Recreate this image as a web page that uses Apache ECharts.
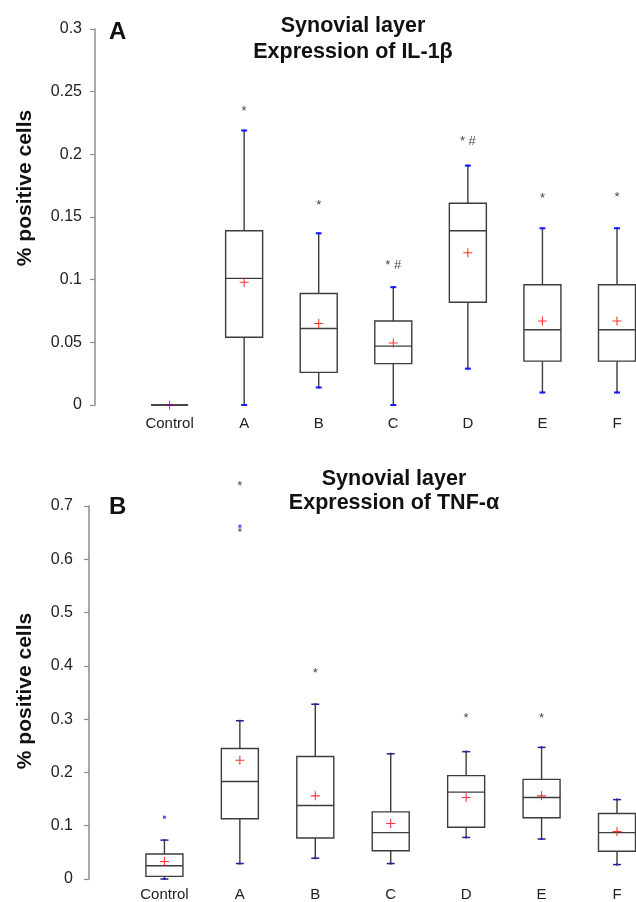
<!DOCTYPE html>
<html>
<head>
<meta charset="utf-8">
<script src="https://cdn.jsdelivr.net/npm/echarts@6/dist/echarts.min.js"></script>
<style>
html, body { margin: 0; padding: 0; background: #fff; }
#chart { width: 636px; height: 902px; }
</style>
</head>
<body>
<div id="chart"></div>
<script>
const groups = ['Control', 'A', 'B', 'C', 'D', 'E', 'F'];

// IL-1β, one row per group: [min, Q1, median, Q3, max]
const il1bBoxes = [
    [0, 0, 0, 0, 0],
    [0, 0.054, 0.101, 0.139, 0.219],
    [0.014, 0.026, 0.061, 0.089, 0.137],
    [0, 0.033, 0.047, 0.067, 0.094],
    [0.029, 0.082, 0.139, 0.161, 0.191],
    [0.010, 0.035, 0.060, 0.096, 0.141],
    [0.010, 0.035, 0.060, 0.096, 0.141]
];
const il1bMeans = [0, 0.098, 0.065, 0.0495, 0.1215, 0.067, 0.067];
const il1bNotes = ['', '*', '*', '* #', '* #', '*', '*'];
const il1bNoteY = [null, 0.234, 0.159, 0.111, 0.21, 0.165, 0.166];

// TNF-α
const tnfBoxes = [
    [0, 0.005, 0.025, 0.047, 0.073],
    [0.029, 0.113, 0.183, 0.245, 0.297],
    [0.039, 0.077, 0.138, 0.230, 0.328],
    [0.029, 0.053, 0.087, 0.126, 0.235],
    [0.078, 0.097, 0.163, 0.194, 0.239],
    [0.075, 0.115, 0.153, 0.187, 0.247],
    [0.027, 0.052, 0.087, 0.123, 0.149]
];
const tnfMeans = [0.033, 0.223, 0.156, 0.104, 0.153, 0.156, 0.089];
const tnfOutlierGroup = [0, 1, 1];
const tnfOutlierValue = [0.116, 0.662, 0.655];
const tnfNotes = ['', '*', '*', '', '*', '*', ''];
const tnfNoteY = [null, 0.737, 0.386, null, 0.302, 0.302, null];

const yTicksTop = [0, 0.3, 0.05];
const yTicksBottom = [0, 0.7, 0.1];

const FONT = 'Liberation Sans';
const plusPath = 'path://M4.4,0h1.2v10h-1.2z M0,4.4h10v1.2h-10z';

// box + whiskers + little caps, all positioned with api.coord
function boxRenderer(capColor, capHalf, capWidth) {
    return function (params, api) {
        const x = api.value(0);
        const lo = api.coord([x, api.value(1)]);
        const q1 = api.coord([x, api.value(2)]);
        const md = api.coord([x, api.value(3)]);
        const q3 = api.coord([x, api.value(4)]);
        const hi = api.coord([x, api.value(5)]);
        const cx = lo[0];
        const hw = 18.5;
        const s = { stroke: '#3c3c3c', lineWidth: 1.4, fill: 'none' };
        const cap = { stroke: capColor, lineWidth: capWidth };
        return {
            type: 'group',
            children: [
                { type: 'line', shape: { x1: cx, y1: q3[1], x2: cx, y2: hi[1] }, style: s },
                { type: 'line', shape: { x1: cx, y1: q1[1], x2: cx, y2: lo[1] }, style: s },
                { type: 'rect', shape: { x: cx - hw, y: q3[1], width: hw * 2, height: q1[1] - q3[1] }, style: s },
                { type: 'line', shape: { x1: cx - hw, y1: md[1], x2: cx + hw, y2: md[1] }, style: s },
                { type: 'line', shape: { x1: cx - capHalf, y1: hi[1], x2: cx + capHalf, y2: hi[1] }, style: cap },
                { type: 'line', shape: { x1: cx - capHalf, y1: lo[1], x2: cx + capHalf, y2: lo[1] }, style: cap },
                { type: 'rect', shape: { x: cx - 1, y: hi[1] - 1, width: 2, height: 2 }, style: { fill: '#1a1aff' } },
                { type: 'rect', shape: { x: cx - 1, y: lo[1] - 1, width: 2, height: 2 }, style: { fill: '#1a1aff' } }
            ]
        };
    };
}

function xAxisFor(gridIndex, margin) {
    return {
        type: 'value', gridIndex: gridIndex, min: 0, max: 7, interval: 1,
        axisLine: { show: false }, axisTick: { show: false }, splitLine: { show: false },
        axisLabel: {
            margin: margin, fontSize: 15, color: '#222', fontFamily: FONT,
            formatter: function (v) { return groups[v - 1] || ''; }
        }
    };
}

function yAxisFor(gridIndex, ticks, margin) {
    return {
        type: 'value', gridIndex: gridIndex, min: ticks[0], max: ticks[1], interval: ticks[2],
        axisLine: { show: true, lineStyle: { color: '#8c8c8c', width: 1.5 } },
        axisTick: { show: true, length: 5, lineStyle: { color: '#8c8c8c', width: 1.2 } },
        splitLine: { show: false },
        axisLabel: { margin: margin, fontSize: 16, color: '#222', fontFamily: FONT }
    };
}

function noteData(notes, ys) {
    const out = [];
    notes.forEach(function (n, i) {
        if (n) out.push({ name: n, value: [i + 1, ys[i]] });
    });
    return out;
}

function seriesFor(idx, boxes, means, notes, noteY, capColor, capHalf, capWidth) {
    return [
        {
            type: 'custom', xAxisIndex: idx, yAxisIndex: idx,
            renderItem: boxRenderer(capColor, capHalf, capWidth),
            encode: { x: 0, y: [1, 2, 3, 4, 5] },
            data: boxes.map(function (b, i) { return [i + 1].concat(b); }),
            clip: false, z: 2
        },
        {
            type: 'scatter', xAxisIndex: idx, yAxisIndex: idx,
            symbol: plusPath, symbolSize: 9,
            itemStyle: { color: '#ff0000' },
            data: means.map(function (m, i) { return [i + 1, m]; }),
            clip: false, z: 4
        },
        {
            type: 'scatter', xAxisIndex: idx, yAxisIndex: idx,
            symbolSize: 0,
            label: {
                show: true, position: 'inside', formatter: '{b}',
                fontSize: 13, color: '#111', fontFamily: FONT
            },
            data: noteData(notes, noteY),
            clip: false, z: 5
        }
    ];
}

const chart = echarts.init(document.getElementById('chart'));

const series = []
    .concat(seriesFor(0, il1bBoxes, il1bMeans, il1bNotes, il1bNoteY, '#1a1aff', 3, 2))
    .concat(seriesFor(1, tnfBoxes, tnfMeans, tnfNotes, tnfNoteY, '#2a2a5a', 4, 1.5));

series.push({
    type: 'scatter', xAxisIndex: 1, yAxisIndex: 1,
    symbol: 'rect', symbolSize: 3,
    data: tnfOutlierValue.map(function (v, i) {
        return { value: [tnfOutlierGroup[i] + 1, v], itemStyle: { color: i === 2 ? '#555' : '#2a2aff' } };
    }),
    clip: false, z: 4
});

chart.setOption({
    animation: false,
    backgroundColor: '#fff',
    grid: [
        { left: 95, right: 19, top: 29, height: 376 },
        { left: 89, right: 19, top: 506, height: 375 }
    ],
    xAxis: [xAxisFor(0, 11), xAxisFor(1, 8)],
    yAxis: [yAxisFor(0, yTicksTop, 13), yAxisFor(1, yTicksBottom, 16)],
    series: series,
    graphic: [
        {
            type: 'text', x: 353, y: 39,
            style: {
                text: 'Synovial layer\nExpression of IL-1β', align: 'center', verticalAlign: 'middle',
                fontSize: 21.5, fontWeight: 'bold', lineHeight: 26, fontFamily: FONT, fill: '#111'
            }
        },
        {
            type: 'text', x: 394, y: 491,
            style: {
                text: 'Synovial layer\nExpression of TNF-α', align: 'center', verticalAlign: 'middle',
                fontSize: 21.5, fontWeight: 'bold', lineHeight: 24, fontFamily: FONT, fill: '#111'
            }
        },
        {
            type: 'text', x: 109, y: 32,
            style: { text: 'A', verticalAlign: 'middle', fontSize: 24, fontWeight: 'bold', fontFamily: FONT, fill: '#111' }
        },
        {
            type: 'text', x: 109, y: 507,
            style: { text: 'B', verticalAlign: 'middle', fontSize: 24, fontWeight: 'bold', fontFamily: FONT, fill: '#111' }
        },
        {
            type: 'text', x: 25, y: 188, rotation: Math.PI / 2,
            style: {
                text: '% positive cells', align: 'center', verticalAlign: 'middle',
                fontSize: 21, fontWeight: 'bold', fontFamily: FONT, fill: '#111'
            }
        },
        {
            type: 'text', x: 25, y: 691, rotation: Math.PI / 2,
            style: {
                text: '% positive cells', align: 'center', verticalAlign: 'middle',
                fontSize: 21, fontWeight: 'bold', fontFamily: FONT, fill: '#111'
            }
        }
    ]
});
</script>
</body>
</html>
